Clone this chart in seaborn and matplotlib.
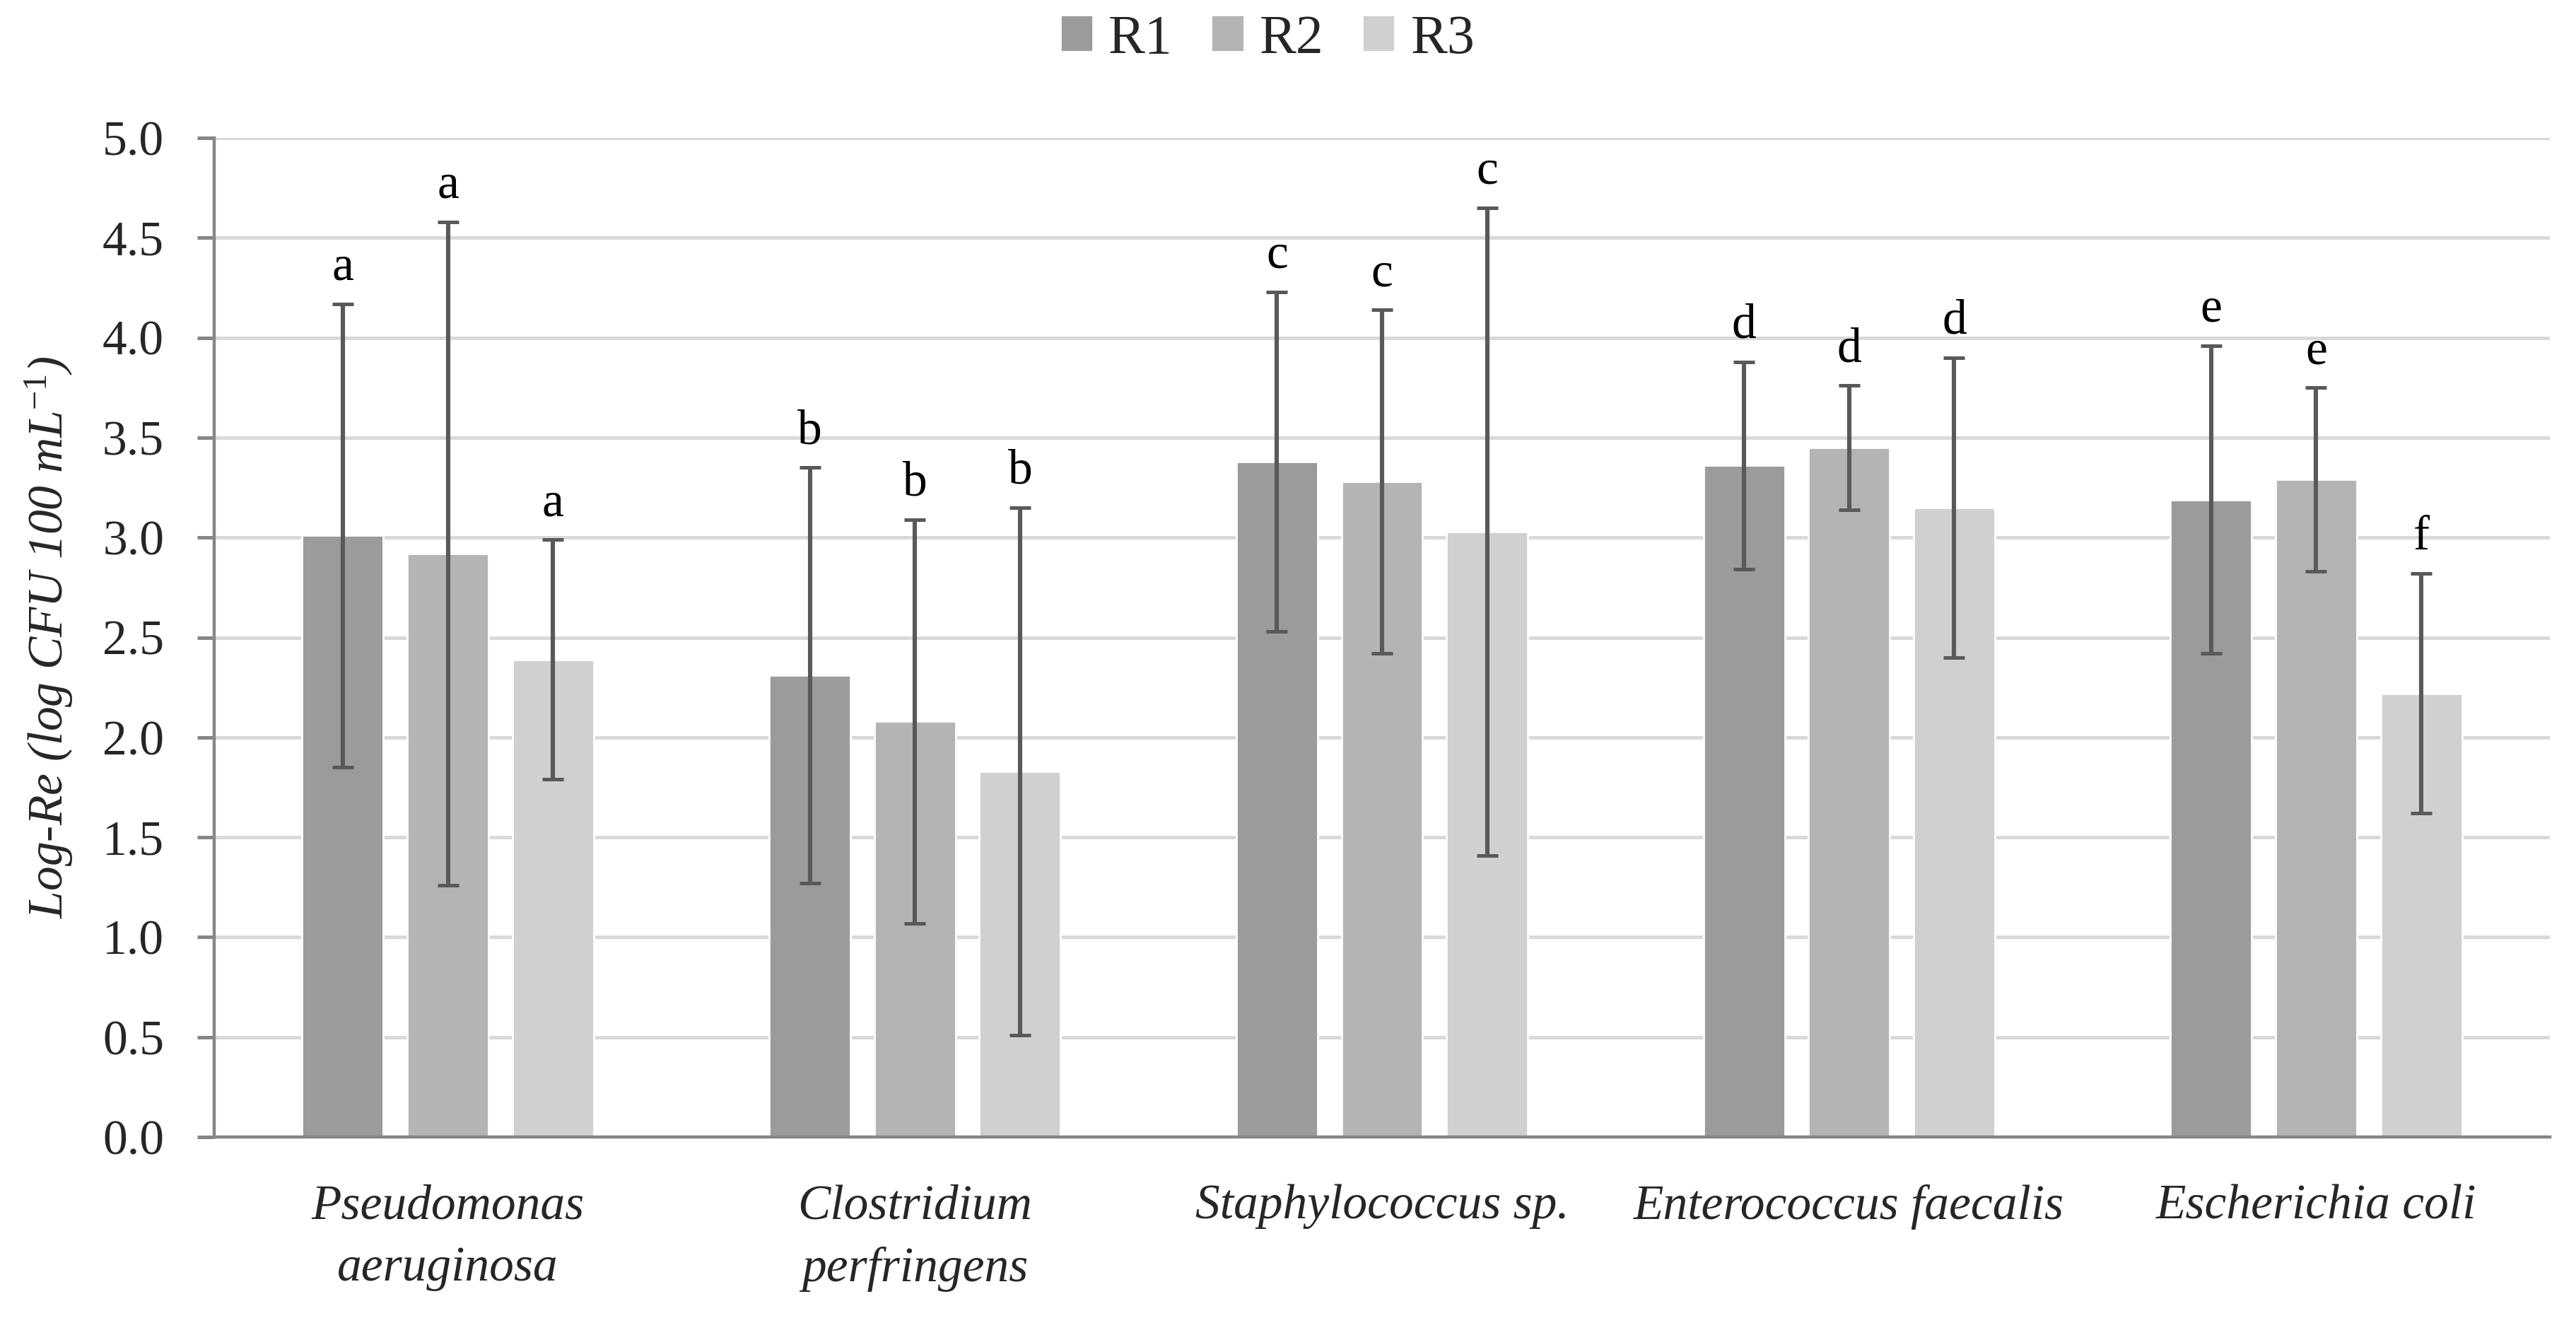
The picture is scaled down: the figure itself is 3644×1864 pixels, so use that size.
import matplotlib.pyplot as plt
import pandas as pd
import seaborn as sns

# values (mean and +/- error per replicate)
species = ['Pseudomonas\naeruginosa', 'Clostridium\nperfringens', 'Staphylococcus sp.',
           'Enterococcus faecalis', 'Escherichia coli']
reps = ['R1', 'R2', 'R3']
r1 = [3.01, 2.31, 3.38, 3.36, 3.19]
r2 = [2.92, 2.08, 3.28, 3.45, 3.29]
r3 = [2.39, 1.83, 3.03, 3.15, 2.22]
err1 = [1.16, 1.04, 0.85, 0.52, 0.77]
err2 = [1.66, 1.01, 0.86, 0.31, 0.46]
err3 = [0.60, 1.32, 1.62, 0.75, 0.60]
letters1 = ['a', 'b', 'c', 'd', 'e']
letters2 = ['a', 'b', 'c', 'd', 'e']
letters3 = ['a', 'b', 'c', 'd', 'f']
colors = ['#9b9b9b', '#b4b4b4', '#d0d0d0']

# long form table for seaborn
df = pd.DataFrame({
    'species': species * 3,
    'rep': [r for r in reps for _ in species],
    'value': r1 + r2 + r3,
})
errs = [err1, err2, err3]
letters = [letters1, letters2, letters3]

sns.set_style('white')
plt.rcParams['font.family'] = ['Liberation Serif', 'DejaVu Serif']
plt.rcParams['mathtext.fontset'] = 'custom'
plt.rcParams['mathtext.rm'] = 'Liberation Serif'
plt.rcParams['mathtext.it'] = 'Liberation Serif:italic'

fig, ax = plt.subplots(figsize=(18.22, 9.32), dpi=200)
fig.subplots_adjust(left=0.0832, right=0.9898, top=0.8954, bottom=0.1373)

sns.barplot(data=df, x='species', y='value', hue='rep', order=species, hue_order=reps,
            palette=colors, saturation=1, width=0.675, gap=0.227, errorbar=None, ax=ax)

# error bars and significance letters on top of each bar
for cont, err, lets in zip(ax.containers, errs, letters):
    xs = [b.get_x() + b.get_width() / 2 for b in cont]
    hs = [b.get_height() for b in cont]
    ax.errorbar(xs, hs, yerr=err, fmt='none', ecolor='#595959', elinewidth=2.2,
                capsize=5.4, capthick=1.8, zorder=3)
    for x, h, e, t in zip(xs, hs, err, lets):
        ax.text(x, h + e + 0.12, t, ha='center', va='baseline', fontsize=25, color='black')

ax.set_ylim(0, 5)
ax.set_xlim(-0.5, 4.5)
ax.set_yticks([i * 0.5 for i in range(11)])
ax.set_yticklabels([f'{i * 0.5:.1f}' for i in range(11)])
ax.yaxis.grid(True, color='#d9d9d9', linewidth=1.8)
ax.set_axisbelow(True)

for s in ['top', 'right']:
    ax.spines[s].set_visible(False)
for s in ['left', 'bottom']:
    ax.spines[s].set_color('#868686')
    ax.spines[s].set_linewidth(1.6)

ax.tick_params(axis='y', direction='out', length=8.6, width=1.8, color='#868686',
               pad=17, labelsize=25, left=True)
ax.tick_params(axis='x', length=0, pad=24)
for lab in ax.get_xticklabels():
    lab.set_fontsize(25)
    lab.set_fontstyle('italic')
    lab.set_linespacing(1.5)

ax.set_xlabel('')
ax.set_ylabel(r'Log-Re (log CFU 100 mL$^{\mathit{-1}}$)', fontsize=25, fontstyle='italic',
              labelpad=14)

leg = ax.get_legend()
handles = leg.legend_handles
labels = [t.get_text() for t in leg.get_texts()]
leg.remove()
fig.legend(handles, labels, loc='center', bbox_to_anchor=(0.492, 0.97), ncol=3,
           frameon=False, fontsize=28, handlelength=0.6, handleheight=0.65,
           handletextpad=0.28, columnspacing=0.7)

fig.savefig('out.png', dpi=200)
